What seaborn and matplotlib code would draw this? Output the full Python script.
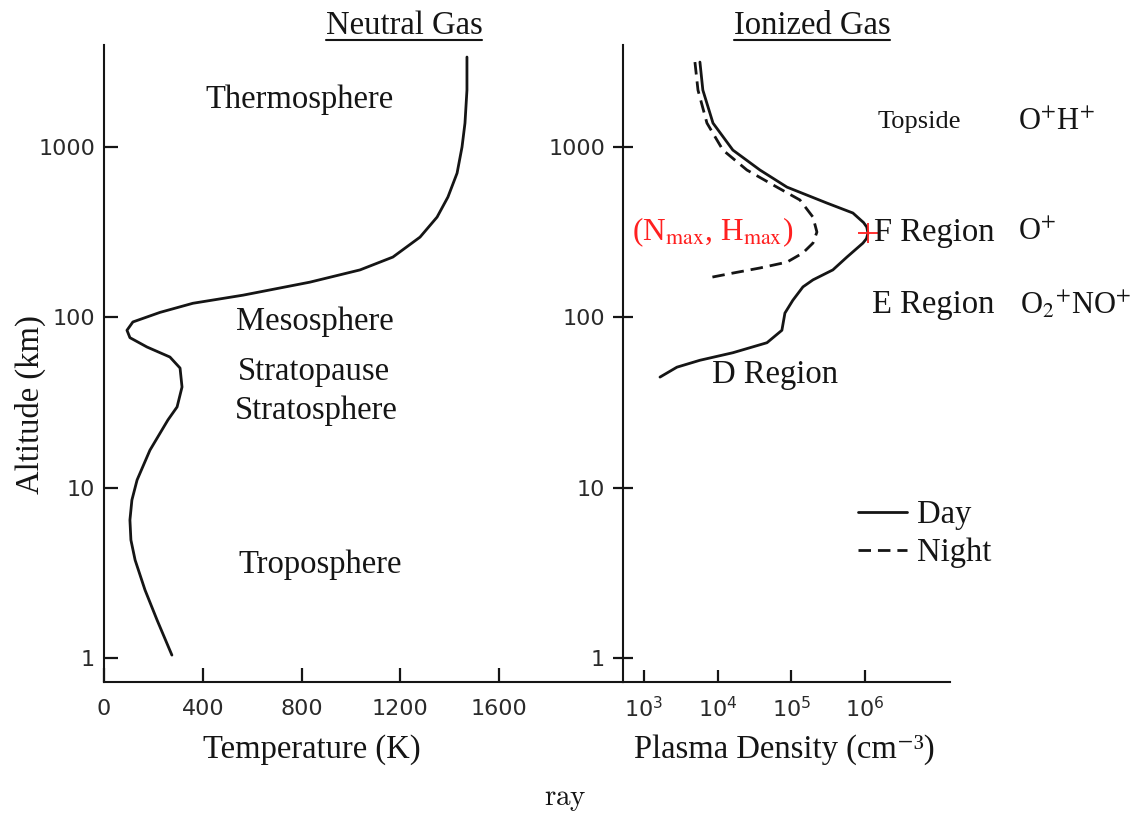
import matplotlib
matplotlib.use("Agg")
import matplotlib.pyplot as plt
from matplotlib.lines import Line2D
import numpy as np
import pandas as pd
import seaborn as sns

# ---- neutral atmosphere temperature profile ----
temp_altitude_km = [3377, 2161, 1383, 1000, 703, 509, 388, 296, 226, 190, 161,
                    135, 121, 107, 94, 84, 76, 67, 58.5, 50.4, 39, 29.8, 25,
                    16.6, 11.1, 8.46, 6.46, 4.93, 3.76, 2.51, 1.67, 1.04]
temperature_k = [1470, 1470, 1462, 1450, 1430, 1393, 1349, 1280, 1170, 1037, 834,
                 563, 360, 227, 117, 93, 105, 174, 267, 308, 316, 296, 259,
                 186, 134, 113, 105, 109, 126, 166, 215, 275]

# ---- ionospheric plasma density profiles ----
day_altitude_km = [3155, 2161, 1383, 960, 733, 582, 469, 410, 360, 339, 312, 290,
                   273, 226, 190, 166, 151, 126, 106, 84, 71, 62, 56, 51, 44.6]
day_density = [5.75e3, 6.3e3, 8.65e3, 1.61e4, 3.76e4, 8.73e4, 3.05e5, 6.87e5,
               9.6e5, 1.06e6, 1.10e6, 1.05e6, 9.4e5, 5.7e5, 3.67e5, 1.97e5,
               1.44e5, 1.05e5, 8.2e4, 7.46e4, 4.68e4, 1.61e4, 5.75e3, 2.8e3, 1.65e3]

night_altitude_km = [3155, 2161, 1383, 960, 733, 582, 489, 388, 317, 273, 239,
                     211, 195, 182, 170]
night_density = [4.92e3, 5.41e3, 7.16e3, 1.18e4, 2.5e4, 6.38e4, 1.31e5, 1.97e5,
                 2.23e5, 1.97e5, 1.44e5, 8.73e4, 3.76e4, 1.61e4, 7.16e3]

temp_ticks = [0, 400, 800, 1200, 1600]
temp_tick_labels = ["0", "400", "800", "1200", "1600"]
density_ticks = [1e3, 1e4, 1e5, 1e6]
density_tick_labels = [r"$10^{3}$", r"$10^{4}$", r"$10^{5}$", r"$10^{6}$"]
altitude_ticks = [1, 10, 100, 1000]
altitude_tick_labels = ["1", "10", "100", "1000"]
period_labels = ["Day", "Night"]

W, H = 1139, 814
sns.set_style("white")
plt.rcParams["font.family"] = ["Liberation Serif", "DejaVu Sans"]
plt.rcParams["axes.linewidth"] = 1.5

fig = plt.figure(figsize=(W / 100, H / 100), dpi=100)
fig.patch.set_facecolor("white")

INK = "#151515"
TICK_INK = "#2a2a2a"


def fx(x):
    return x / W


def fy(y):
    return 1 - y / H


bottom, top = fy(682), fy(45)
ax_l = fig.add_axes([fx(104), bottom, fx(623) - fx(104), top - bottom])
ax_r = fig.add_axes([fx(623), bottom, fx(950) - fx(623), top - bottom])

ylim = (0.723, 3974)

# left panel: temperature
ax_l.set_yscale("log")
sns.lineplot(x=temperature_k, y=temp_altitude_km, sort=False, estimator=None,
             color=INK, linewidth=2.0, ax=ax_l)
ax_l.set_xlim(0, 2102)
ax_l.set_ylim(*ylim)

# right panel: plasma density
ax_r.set_xscale("log")
ax_r.set_yscale("log")
plasma = pd.DataFrame({
    "density": day_density + night_density,
    "altitude": day_altitude_km + night_altitude_km,
    "period": [period_labels[0]] * len(day_density) + [period_labels[1]] * len(night_density),
})
sns.lineplot(data=plasma, x="density", y="altitude", style="period",
             style_order=period_labels,
             dashes={"Day": "", "Night": (4.5, 2.5)},
             sort=False, estimator=None, color=INK, linewidth=2.0,
             legend=False, ax=ax_r)
ax_r.set_xlim(519, 1.43e7)
ax_r.set_ylim(*ylim)

# F-region peak marker
i_peak = int(np.argmax(day_density))
ax_r.plot([day_density[i_peak]], [day_altitude_km[i_peak]], marker="+",
          color="#ff2020", ms=15, mew=1.3, linestyle="none", zorder=5)

ax_l.set_xticks(temp_ticks)
ax_l.set_xticklabels(temp_tick_labels)
ax_r.set_xticks(density_ticks)
ax_r.set_xticklabels(density_tick_labels)

for ax in (ax_l, ax_r):
    ax.set_yticks(altitude_ticks)
    ax.set_yticklabels(altitude_tick_labels)
    ax.minorticks_off()
    for s in ("top", "right"):
        ax.spines[s].set_visible(False)
    for s in ("left", "bottom"):
        ax.spines[s].set_color(INK)
    ax.set_facecolor("none")
    ax.set_xlabel("")
    ax.set_ylabel("")
    for lab in ax.get_xticklabels() + ax.get_yticklabels():
        lab.set_family("DejaVu Sans")
        lab.set_fontsize(16)
        lab.set_color(TICK_INK)
        lab.set_math_fontfamily("dejavusans")

ax_l.tick_params(axis="y", which="major", left=True, direction="in",
                 length=10, width=1.6, pad=6.5, color=INK)
ax_l.tick_params(axis="x", which="major", bottom=True, direction="in",
                 length=10, width=1.6, pad=12, color=INK)
ax_r.tick_params(axis="y", which="major", left=True, direction="inout",
                 length=14, width=1.6, pad=6, color=INK)
ax_r.tick_params(axis="x", which="major", bottom=True, direction="in",
                 length=9, width=1.6, pad=10, color=INK)

# axis titles and labels
BIG = 23.5
titles = [
    fig.text(fx(404), fy(26), "Neutral Gas", fontsize=BIG, ha="center", va="center", color=INK),
    fig.text(fx(812), fy(26), "Ionized Gas", fontsize=BIG, ha="center", va="center", color=INK),
]
fig.text(fx(312), fy(750), "Temperature (K)", fontsize=BIG, ha="center", va="center", color=INK)
fig.text(fx(784), fy(750), "Plasma Density (cm⁻³)",
         fontsize=BIG, ha="center", va="center", color=INK)
fig.text(fx(30), fy(405), "Altitude (km)", fontsize=BIG, rotation=90,
         ha="center", va="center", color=INK)

# atmospheric layers
for label, x, y in [("Thermosphere", 300, 100), ("Mesosphere", 315, 322),
                    ("Stratopause", 314, 372), ("Stratosphere", 316, 411),
                    ("Troposphere", 320, 565), ("D Region", 775, 375)]:
    fig.text(fx(x), fy(y), label, fontsize=BIG, ha="center", va="center", color=INK)

# ionospheric regions and dominant ions
fig.text(fx(878), fy(122), "Topside", fontsize=19, ha="left", va="center", color=INK)
fig.text(fx(1018), fy(122), r"O$^{+}$H$^{+}$", math_fontfamily="stix",
         fontsize=22, ha="left", va="center", color=INK)
fig.text(fx(874), fy(233), "F Region", fontsize=BIG, ha="left", va="center", color=INK)
fig.text(fx(1018), fy(233), r"O$^{+}$", math_fontfamily="stix",
         fontsize=22, ha="left", va="center", color=INK)
fig.text(fx(872), fy(305), "E Region", fontsize=BIG, ha="left", va="center", color=INK)
fig.text(fx(1020), fy(305), r"O$_{2}{}^{+}$NO$^{+}$", math_fontfamily="stix",
         fontsize=22, ha="left", va="center", color=INK)
fig.text(fx(632), fy(232), r"(N$_{\mathrm{max}}$, H$_{\mathrm{max}}$)",
         math_fontfamily="stix", fontsize=22.5, ha="left", va="center", color="#ff2020")

# Day / Night key
day_line, night_line = ax_r.get_lines()[0], ax_r.get_lines()[1]
fig.legend([day_line, night_line], period_labels, loc="upper left",
           bbox_to_anchor=(fx(858), fy(500)), frameon=False, fontsize=BIG,
           handlelength=1.5, handletextpad=0.3, labelspacing=0.22,
           borderpad=0, borderaxespad=0, labelcolor=INK)

fig.text(fx(565), fy(800), r"$\mathrm{ray}$", math_fontfamily="cm",
         fontsize=21, ha="center", va="center", color=INK)

# underline the panel titles
fig.canvas.draw()
renderer = fig.canvas.get_renderer()
for t in titles:
    bb = t.get_window_extent(renderer).transformed(fig.transFigure.inverted())
    fig.add_artist(Line2D([bb.x0, bb.x1], [bb.y0 + 0.001, bb.y0 + 0.001],
                          transform=fig.transFigure, color=INK, lw=1.5))

fig.savefig("out.png", dpi=100, facecolor="white")
